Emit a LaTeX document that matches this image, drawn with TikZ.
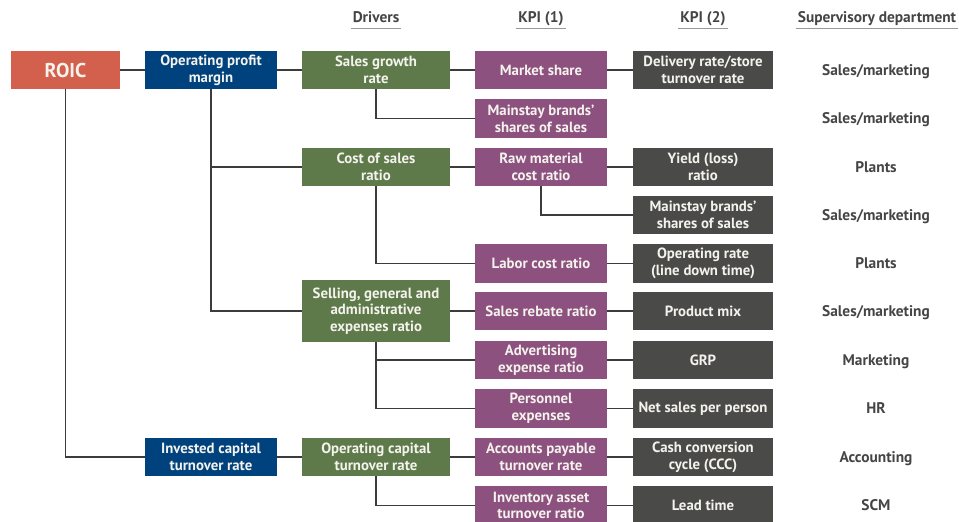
\documentclass[tikz,border=0pt]{standalone}
\usepackage{fontspec}
\setmainfont{PT Sans}
\definecolor{roicC}{HTML}{D2604C}
\definecolor{blueC}{HTML}{00427E}
\definecolor{greenC}{HTML}{5E7A4B}
\definecolor{purpC}{HTML}{8C517F}
\definecolor{grayC}{HTML}{4A4A48}
\definecolor{lineC}{HTML}{3C3C3C}
\definecolor{txtC}{HTML}{F4F2EC}
\definecolor{headC}{HTML}{454545}
\begin{document}
\begin{tikzpicture}[x=1pt,y=-1pt,
  box/.style={rectangle,minimum height=38.5pt,inner sep=0pt,align=center,text=txtC,
    font=\fontsize{14.8}{16.8}\selectfont\bfseries},
  roicbox/.style={box,fill=roicC,minimum width=109pt,font=\fontsize{20}{22}\selectfont\bfseries},
  bluebox/.style={box,fill=blueC,minimum width=132pt},
  greenbox/.style={box,fill=greenC,minimum width=148pt},
  purpbox/.style={box,fill=purpC,minimum width=132pt},
  graybox/.style={box,fill=grayC,minimum width=140pt},
  dept/.style={text=headC,font=\fontsize{15.4}{17}\selectfont\bfseries,text height=10.8pt,text depth=0pt},
  head/.style={text=headC,font=\fontsize{15.4}{17}\selectfont\bfseries,inner sep=2pt,text height=10.8pt,text depth=3.5pt},
  link/.style={draw=lineC,line width=1.1pt}]
\useasboundingbox (0,0) rectangle (959,522);
% headers
\node[head] (hd) at (376,19) {Drivers};
\node[head] (hk1) at (541,19) {KPI (1)};
\node[head] (hk2) at (703,19) {KPI (2)};
\node[head] (hsd) at (877,19) {Supervisory department};
\foreach \h in {hd,hk1,hk2,hsd}{\draw[gray!80,line width=1pt] ([yshift=-0.5pt]\h.south west) -- ([yshift=-0.5pt]\h.south east);}
% level nodes
\node[roicbox] (roic) at (65.5,70) {ROIC};
\node[bluebox] (opm) at (211,70) {Operating profit\\margin};
\node[bluebox] (icr) at (211,457) {Invested capital\\turnover rate};
% drivers
\node[greenbox] (sgr) at (376,70) {Sales growth\\rate};
\node[greenbox] (cos) at (376,167) {Cost of sales\\ratio};
\node[greenbox,minimum height=62pt] (sga) at (376,311) {Selling, general and\\administrative\\expenses ratio};
\node[greenbox] (ocr) at (376,457) {Operating capital\\turnover rate};
% KPI 1
\node[purpbox] (ms) at (541,70) {Market share};
\node[purpbox] (mb) at (541,118.5) {Mainstay brands'\\shares of sales};
\node[purpbox] (rm) at (541,167) {Raw material\\cost ratio};
\node[purpbox] (lc) at (541,263.5) {Labor cost ratio};
\node[purpbox] (sr) at (541,311) {Sales rebate ratio};
\node[purpbox] (ad) at (541,360) {Advertising\\expense ratio};
\node[purpbox] (pe) at (541,408.5) {Personnel\\expenses};
\node[purpbox] (ap) at (541,457) {Accounts payable\\turnover rate};
\node[purpbox] (ia) at (541,505.5) {Inventory asset\\turnover ratio};
% KPI 2
\node[graybox] (dr) at (703,70) {Delivery rate/store\\turnover rate};
\node[graybox] (yl) at (703,167) {Yield (loss)\\ratio};
\node[graybox] (mb2) at (703,215) {Mainstay brands'\\shares of sales};
\node[graybox] (or) at (703,263.5) {Operating rate\\(line down time)};
\node[graybox] (pm) at (703,311) {Product mix};
\node[graybox] (grp) at (703,360) {GRP};
\node[graybox] (ns) at (703,408.5) {Net sales per person};
\node[graybox] (ccc) at (703,457) {Cash conversion\\cycle (CCC)};
\node[graybox] (lt) at (703,505.5) {Lead time};
% departments
\node[dept] (d1) at (876,70) {Sales/marketing};
\node[dept] (d2) at (876,118.5) {Sales/marketing};
\node[dept] (d3) at (876,167) {Plants};
\node[dept] (d4) at (876,215) {Sales/marketing};
\node[dept] (d5) at (876,263.5) {Plants};
\node[dept] (d6) at (876,311) {Sales/marketing};
\node[dept] (d7) at (876,360) {Marketing};
\node[dept] (d8) at (876,408.5) {HR};
\node[dept] (d9) at (876,457) {Accounting};
\node[dept] (d10) at (876,505.5) {SCM};
% connectors
\draw[link] (roic) -- (opm);
\draw[link] (opm) -- (sgr);
\draw[link] (sgr) -- (ms);
\draw[link] (ms) -- (dr);
\draw[link] (sgr.south) |- (mb.west);
\draw[link] (roic.south) |- (icr.west);
\draw[link] (opm.south) |- (cos.west);
\draw[link] (opm.south) |- (sga.west);
\draw[link] (cos) -- (rm);
\draw[link] (rm) -- (yl);
\draw[link] (cos.south) |- (lc.west);
\draw[link] (rm.south) |- (mb2.west);
\draw[link] (lc) -- (or);
\draw[link] (sga) -- (sr);
\draw[link] (sr) -- (pm);
\draw[link] (sga.south) |- (ad.west);
\draw[link] (sga.south) |- (pe.west);
\draw[link] (ad) -- (grp);
\draw[link] (pe) -- (ns);
\draw[link] (icr) -- (ocr);
\draw[link] (ocr) -- (ap);
\draw[link] (ap) -- (ccc);
\draw[link] (ocr.south) |- (ia.west);
\draw[link] (ia) -- (lt);
\end{tikzpicture}
\end{document}
